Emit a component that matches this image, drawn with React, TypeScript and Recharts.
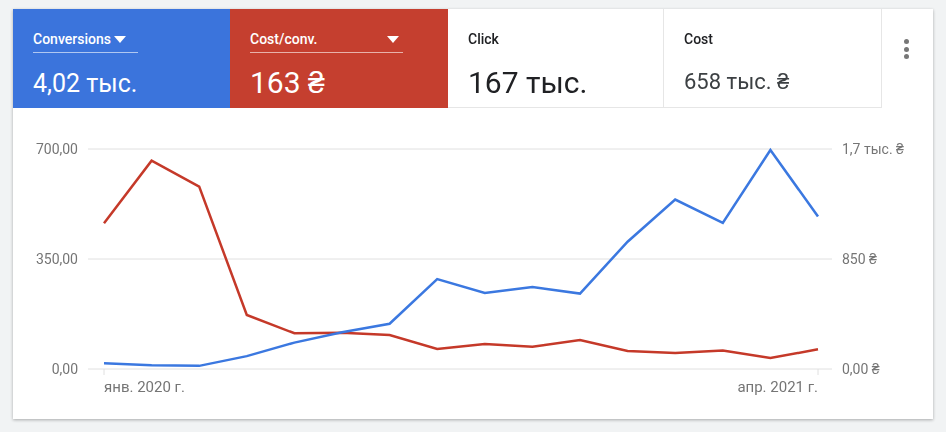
import React from "react";
import {
  LineChart,
  Line,
  XAxis,
  YAxis,
  CartesianGrid,
} from "recharts";

const months = [
  "янв. 2020 г.",
  "февр. 2020 г.",
  "март 2020 г.",
  "апр. 2020 г.",
  "май 2020 г.",
  "июнь 2020 г.",
  "июль 2020 г.",
  "авг. 2020 г.",
  "сент. 2020 г.",
  "окт. 2020 г.",
  "нояб. 2020 г.",
  "дек. 2020 г.",
  "янв. 2021 г.",
  "февр. 2021 г.",
  "март 2021 г.",
  "апр. 2021 г.",
];

const conversions = [18, 12, 10, 41, 84, 117, 144, 286, 242, 261, 240, 405, 539, 465, 697, 485];
const costPerConv = [1126, 1610, 1409, 417, 276, 281, 263, 155, 193, 172, 224, 139, 124, 142, 85, 152];

const leftTicks = [0, 350, 700];
const leftTickLabels = ["0,00", "350,00", "700,00"];
const rightTicks = [0, 850, 1700];
const rightTickLabels = ["0,00 ₴", "850 ₴", "1,7 тыс. ₴"];

const data = months.map((m, i) => ({
  month: m,
  conversions: conversions[i],
  costPerConv: costPerConv[i],
}));

const BLUE = "#3b74dc";
const RED = "#c53f2f";
const GREY = "#757575";

function XTick({ x, y, payload, index }: any) {
  const last = months.length - 1;
  if (index !== 0 && index !== last) return <g />;
  return (
    <g>
      <line x1={x} x2={x} y1={y} y2={y + 6} stroke="#e0e0e0" />
      <text
        x={x}
        y={y + 23}
        textAnchor={index === 0 ? "start" : "end"}
        fill={GREY}
        fontSize={15}
      >
        {payload.value}
      </text>
    </g>
  );
}

function Caret() {
  return (
    <svg width={12} height={7} style={{ display: "block", marginTop: 5 }}>
      <path d="M0 0 L12 0 L6 7 Z" fill="white" />
    </svg>
  );
}

const tileBase: React.CSSProperties = {
  height: 99,
  boxSizing: "border-box",
  paddingLeft: 20,
  position: "relative",
};

const dropLabel: React.CSSProperties = {
  position: "absolute",
  top: 22,
  left: 20,
  height: 21,
  lineHeight: "16px",
  borderBottom: "1px solid rgba(255,255,255,0.6)",
  display: "flex",
  alignItems: "flex-start",
  fontSize: 14,
  fontWeight: 500,
};

export default function App() {
  return (
    <div style={{ fontFamily: "Roboto, sans-serif" }}>
      <div style={{ position: "fixed", inset: 0, background: "#f1f3f4" }} />
      <div
        style={{
          position: "absolute",
          left: 13,
          top: 9,
          width: 920,
          height: 410,
          background: "white",
          boxShadow: "0 1px 3px rgba(0,0,0,0.3)",
          overflow: "hidden",
        }}
      >
        <div style={{ display: "flex", height: 99 }}>
          <div style={{ ...tileBase, width: 217, background: BLUE, color: "white" }}>
            <div style={{ ...dropLabel, width: 105, gap: 3 }}>
              Conversions
              <Caret />
            </div>
            <div style={{ position: "absolute", top: 60, left: 20, fontSize: 25 }}>
              4,02 тыс.
            </div>
          </div>
          <div style={{ ...tileBase, width: 218, background: RED, color: "white" }}>
            <div style={{ ...dropLabel, width: 153, justifyContent: "space-between" }}>
              Cost/conv.
              <span style={{ marginRight: 4 }}>
                <Caret />
              </span>
            </div>
            <div style={{ position: "absolute", top: 56, left: 20, fontSize: 30 }}>
              163 ₴
            </div>
          </div>
          <div
            style={{
              ...tileBase,
              width: 216,
              borderBottom: "1px solid #e6e6e6",
              borderRight: "1px solid #e6e6e6",
            }}
          >
            <div
              style={{
                position: "absolute",
                top: 22,
                left: 20,
                lineHeight: "16px",
                fontSize: 14,
                fontWeight: 500,
                color: "#202124",
              }}
            >
              Click
            </div>
            <div
              style={{ position: "absolute", top: 56, left: 20, fontSize: 30, color: "#202124" }}
            >
              167 тыс.
            </div>
          </div>
          <div
            style={{
              ...tileBase,
              width: 218,
              borderBottom: "1px solid #e6e6e6",
              borderRight: "1px solid #e6e6e6",
            }}
          >
            <div
              style={{
                position: "absolute",
                top: 22,
                left: 20,
                lineHeight: "16px",
                fontSize: 14,
                fontWeight: 500,
                color: "#202124",
              }}
            >
              Cost
            </div>
            <div
              style={{ position: "absolute", top: 60, left: 20, fontSize: 22, color: "#3c4043" }}
            >
              658 тыс. ₴
            </div>
          </div>
          <div style={{ width: 51, position: "relative" }}>
            {[0, 1, 2].map((i) => (
              <div
                key={i}
                style={{
                  position: "absolute",
                  left: 22,
                  top: 30 + i * 7.5,
                  width: 5,
                  height: 5,
                  borderRadius: "50%",
                  background: "#777",
                }}
              />
            ))}
          </div>
        </div>
        <LineChart
          width={920}
          height={311}
          data={data}
          margin={{ top: 41, right: 0, left: 0, bottom: 20 }}
        >
          <CartesianGrid yAxisId="left" vertical={false} stroke="#e0e0e0" />
          <XAxis
            dataKey="month"
            axisLine={false}
            tickLine={false}
            tickSize={0}
            tickMargin={0}
            interval={0}
            height={30}
            padding={{ left: 16, right: 14 }}
            tick={<XTick />}
          />
          <YAxis
            yAxisId="left"
            width={75}
            domain={[0, 700]}
            ticks={leftTicks}
            axisLine={false}
            tickLine={false}
            tickSize={8}
            tick={{ fontSize: 14, fill: GREY }}
            tickFormatter={(v: number) => leftTickLabels[leftTicks.indexOf(v)]}
          />
          <YAxis
            yAxisId="right"
            orientation="right"
            width={101}
            domain={[0, 1700]}
            ticks={rightTicks}
            axisLine={false}
            tickLine={false}
            tickSize={8}
            tick={{ fontSize: 14, fill: GREY }}
            tickFormatter={(v: number) => rightTickLabels[rightTicks.indexOf(v)]}
          />
          <Line
            yAxisId="right"
            dataKey="costPerConv"
            type="linear"
            stroke="#c53929"
            strokeWidth={2.5}
            dot={false}
            isAnimationActive={false}
          />
          <Line
            yAxisId="left"
            dataKey="conversions"
            type="linear"
            stroke="#3b78e0"
            strokeWidth={2.5}
            dot={false}
            isAnimationActive={false}
          />
        </LineChart>
      </div>
    </div>
  );
}
